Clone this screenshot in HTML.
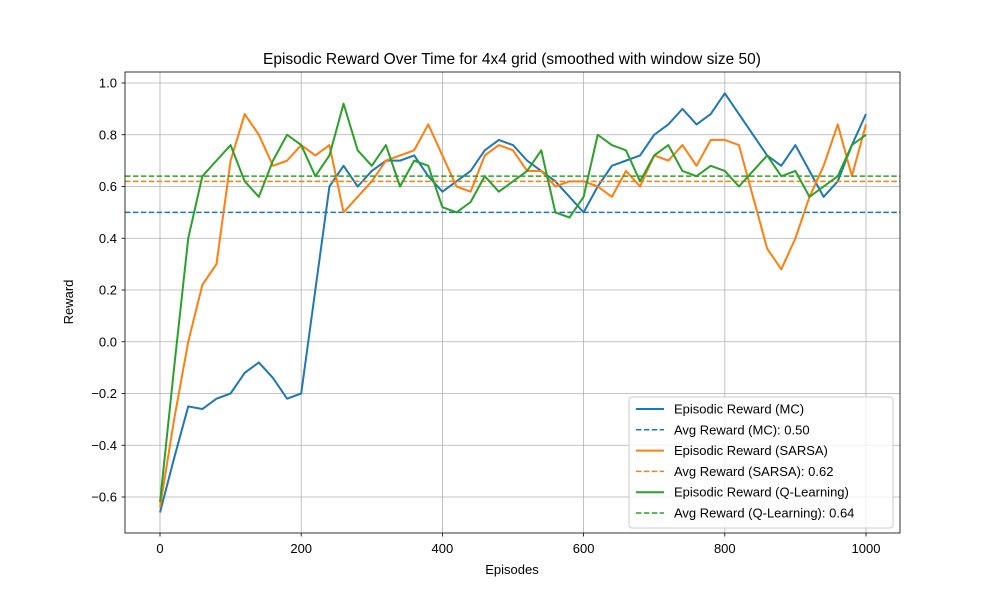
<!DOCTYPE html>
<html><head><meta charset="utf-8"><style>
body{margin:0;background:#fff;font-family:"Liberation Sans","DejaVu Sans",sans-serif}
</style></head><body>
<svg id="chart" width="1000" height="600" xmlns="http://www.w3.org/2000/svg" font-family="Liberation Sans, DejaVu Sans, sans-serif">
<rect width="1000" height="600" fill="#fff"/>
<g id="grid"></g>
<g id="series"></g>
<rect x="125" y="72" width="775" height="461" fill="none" stroke="#000" stroke-width="0.8"/>
<g id="ticks" font-size="13" fill="#000"></g>
<text x="512" y="64" font-size="15.5" text-anchor="middle">Episodic Reward Over Time for 4x4 grid (smoothed with window size 50)</text>
<text x="512" y="574" font-size="13" text-anchor="middle">Episodes</text>
<text x="73" y="302" font-size="13" text-anchor="middle" transform="rotate(-90 73 302)">Reward</text>
<g id="legend"></g>
</svg>
<script>
const episodes=[0,20,40,60,80,100,120,140,160,180,200,220,240,260,280,300,320,340,360,380,400,420,440,460,480,500,520,540,560,580,600,620,640,660,680,700,720,740,760,780,800,820,840,860,880,900,920,940,960,980,1000];
const mcValues=[-0.66,-0.45,-0.25,-0.26,-0.22,-0.20,-0.12,-0.08,-0.14,-0.22,-0.20,0.20,0.60,0.68,0.60,0.66,0.70,0.70,0.72,0.64,0.58,0.62,0.66,0.74,0.78,0.76,0.70,0.66,0.62,0.56,0.50,0.60,0.68,0.70,0.72,0.80,0.84,0.90,0.84,0.88,0.96,0.88,0.80,0.72,0.68,0.76,0.66,0.56,0.62,0.76,0.88];
const sarsaValues=[-0.64,-0.30,0.00,0.22,0.30,0.70,0.88,0.80,0.68,0.70,0.76,0.72,0.76,0.50,0.56,0.62,0.70,0.72,0.74,0.84,0.72,0.60,0.58,0.72,0.76,0.74,0.66,0.66,0.60,0.62,0.62,0.60,0.56,0.66,0.60,0.72,0.70,0.76,0.68,0.78,0.78,0.76,0.56,0.36,0.28,0.40,0.56,0.68,0.84,0.64,0.84];
const qValues=[-0.62,-0.10,0.40,0.64,0.70,0.76,0.62,0.56,0.70,0.80,0.76,0.64,0.72,0.92,0.74,0.68,0.76,0.60,0.70,0.68,0.52,0.50,0.54,0.64,0.58,0.62,0.66,0.74,0.50,0.48,0.56,0.80,0.76,0.74,0.62,0.72,0.76,0.66,0.64,0.68,0.66,0.60,0.66,0.72,0.64,0.66,0.56,0.60,0.64,0.76,0.80];
const averages=[0.50,0.62,0.64];
const xTicks=[0,200,400,600,800,1000];
const yTicks=[-0.6,-0.4,-0.2,0.0,0.2,0.4,0.6,0.8,1.0];
const legendLabels=["Episodic Reward (MC)","Avg Reward (MC): 0.50","Episodic Reward (SARSA)","Avg Reward (SARSA): 0.62","Episodic Reward (Q-Learning)","Avg Reward (Q-Learning): 0.64"];
const colors=["#1f77b4","#ff7f0e","#2ca02c"];
const NS="http://www.w3.org/2000/svg";
const X=v=>160+v*0.706;
const Y=v=>497-(v+0.6)*258.75;
function mk(t,a,p){const e=document.createElementNS(NS,t);for(const k in a)e.setAttribute(k,a[k]);p.appendChild(e);return e;}
const grid=document.getElementById('grid'),ticks=document.getElementById('ticks'),ser=document.getElementById('series'),leg=document.getElementById('legend');
xTicks.forEach(t=>{const x=X(t);
 const g=mk('line',{x1:x,x2:x,y1:72,y2:533,stroke:'#b0b0b0','stroke-width':0.8},grid);
 
 const k=mk('line',{x1:x,x2:x,y1:533,y2:536.5,stroke:'#000','stroke-width':0.8},ticks);
 
 const l=mk('text',{x:x,y:553,'text-anchor':'middle'},ticks);l.textContent=t;
 });
yTicks.forEach(t=>{const y=Y(t);
 const g=mk('line',{x1:125,x2:900,y1:y,y2:y,stroke:'#b0b0b0','stroke-width':0.8},grid);
 
 const k=mk('line',{x1:121.5,x2:125,y1:y,y2:y,stroke:'#000','stroke-width':0.8},ticks);
 
 const l=mk('text',{x:117,y:y+4.5,'text-anchor':'end'},ticks);l.textContent=(t<0?'\u2212':'')+Math.abs(t).toFixed(1);
 });
const allSeries=[mcValues,sarsaValues,qValues];const names=['mc','sarsa','q-learning'];
allSeries.forEach((vals,i)=>{
 const pts=vals.map((v,j)=>X(episodes[j])+','+Y(v)).join(' ');
 const p=mk('polyline',{points:pts,fill:'none',stroke:colors[i],'stroke-width':2,'stroke-linejoin':'round'},ser);
 
 const a=mk('line',{x1:125,x2:900,y1:Y(averages[i]),y2:Y(averages[i]),stroke:colors[i],'stroke-width':1.5,'stroke-dasharray':'5.5,2.4'},ser);
 });
const box=mk('rect',{x:629,y:397,width:264,height:131,rx:3,fill:'#fff','fill-opacity':0.8,stroke:'#ccc'},leg);

legendLabels.forEach((s,i)=>{const y=409+i*20.8;const c=colors[Math.floor(i/2)];
 const ln=mk('line',{x1:636,x2:664,y1:y,y2:y,stroke:c,'stroke-width':i%2?1.5:2,'stroke-dasharray':i%2?'5.5,2.4':'none'},leg);
 
 const t=mk('text',{x:674,y:y+4.5,'font-size':13},leg);t.textContent=s;
 });
</script>
</body></html>
